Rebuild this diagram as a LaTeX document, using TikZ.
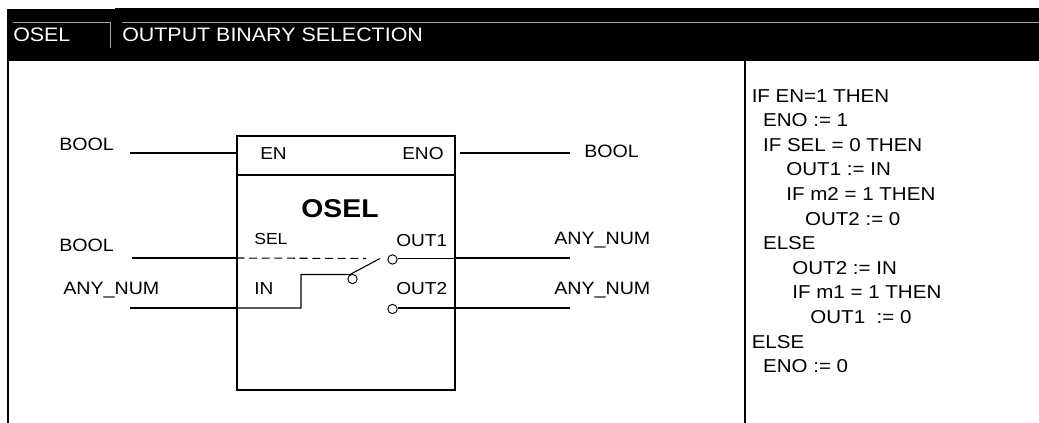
\documentclass[tikz,border=0pt]{standalone}
\usepackage{fontspec}
\setmainfont[FakeStretch=1.1]{Liberation Sans}
\usetikzlibrary{positioning, calc}
\tikzset{
  pinlabel/.style={font=\fontsize{13}{15}\selectfont, inner sep=0pt},
  typelabel/.style={font=\fontsize{13.4}{15}\selectfont, inner sep=0pt},
  titlelabel/.style={text=white, inner sep=0pt, font=\fontsize{14.6}{17}\selectfont},
  termcirc/.style={circle, draw, fill=white, line width=0.7pt, inner sep=0pt, minimum size=7pt},
  wire/.style={line width=1.5pt},
  thinwire/.style={line width=0.8pt}
}
\begin{document}
\begin{tikzpicture}[x=0.75pt,y=-0.75pt]
\useasboundingbox (0,0) rectangle (1039,423);
% Header bar
\fill[black] (7,9) rectangle (115,61);
\fill[black] (115,8) rectangle (1039,61);
\draw[gray!70, line width=0.4pt] (13,22) -- (110,22);
\draw[gray!70, line width=0.4pt] (110,22) -- (110,48);
\draw[gray!70, line width=0.4pt] (122,22) -- (1039,22);
\node[titlelabel, anchor=base west] (title) at (13,42) {OSEL};
\node[titlelabel, anchor=base west] (descr) at (122,42) {OUTPUT BINARY SELECTION};
% Frame
\draw[line width=1.5pt] (7.5,61) -- (7.5,423);
\draw[line width=1.5pt] (745,61) -- (745,423);
% Block
\node[draw, line width=1.5pt, minimum width=163pt, minimum height=190.5pt, inner sep=0pt] (osel) at (346,263) {};
\coordinate (sep) at ($(osel.north west)+(0,40)$);
\draw[line width=1.5pt] (sep) -- (sep -| osel.east);
\node[anchor=base, font=\bfseries\fontsize{19.3}{22}\selectfont, inner sep=0pt] (name) at (340,218) {OSEL};
% Pin labels
\node[pinlabel, anchor=base west] (en) at (260,160) {EN};
\node[pinlabel, anchor=base west] (eno) at (402,160) {ENO};
\node[anchor=base west, inner sep=0pt, font=\fontsize{12}{14}\selectfont] (sel) at (254,245) {SEL};
\node[pinlabel, anchor=base west] (in) at (254,295) {IN};
\node[pinlabel, anchor=base west] (outa) at (396,247) {OUT1};
\node[pinlabel, anchor=base west] (outb) at (396,295) {OUT2};
% Type labels
\node[typelabel, anchor=base west] (tena) at (59,151) {BOOL};
\node[typelabel, anchor=base west] (teno) at (584,158) {BOOL};
\node[typelabel, anchor=base west] (tsel) at (59,252) {BOOL};
\node[typelabel, anchor=base west] (tin) at (63,295) {ANY\_NUM};
\node[typelabel, anchor=base west] (touta) at (554,245) {ANY\_NUM};
\node[typelabel, anchor=base west] (toutb) at (554,295) {ANY\_NUM};
% Switch contacts
\node[termcirc] (ca) at (392.5,259.5) {};
\node[termcirc] (cb) at (392.5,309) {};
\node[termcirc] (cc) at (352.5,279) {};
% Outer wires
\coordinate (wen) at (130,153);
\coordinate (wsel) at (132,258);
\coordinate (win) at (130,308);
\coordinate (weno) at (460,153);
\coordinate (wenoe) at (570,153);
\coordinate (wouta) at (570,258.5);
\coordinate (woutb) at (570,308);
\draw[wire] (wen) -- (wen -| osel.west);
\draw[wire] (wsel) -- (wsel -| osel.west);
\draw[wire] (win) -- (win -| osel.west);
\draw[wire] (weno) -- (wenoe);
\draw[wire] (wouta -| osel.east) -- (wouta);
\draw[wire] (woutb -| osel.east) -- (woutb);
% Inside the block
\coordinate (swa) at (301,308);
\coordinate (swb) at (301,274.5);
\coordinate (swc) at (350,274.5);
\coordinate (swd) at (380,258.5);
\coordinate (dashend) at (366,258.5);
\draw[thinwire, dash pattern=on 6pt off 3.5pt] (wsel -| osel.west) -- (dashend);
\draw[thinwire] (win -| osel.west) -- (swa) -- (swb) -- (swc) -- (swd);
\draw[thinwire] (ca.east |- wouta) -- (wouta -| osel.east);
\draw[thinwire] (cb.east |- woutb) -- (woutb -| osel.east);
% Code column
\node[anchor=north west, align=left, inner sep=0pt, font=\fontsize{14}{18.45}\selectfont] (code) at (751.5,89) {
IF EN=1 THEN\\
\hspace*{8.5pt}ENO := 1\\
\hspace*{8.5pt}IF SEL = 0 THEN\\
\hspace*{26pt}OUT1 := IN\\
\hspace*{26pt}IF m2 = 1 THEN\\
\hspace*{40pt}OUT2 := 0\\
\hspace*{8.5pt}ELSE\\
\hspace*{30.5pt}OUT2 := IN\\
\hspace*{30.5pt}IF m1 = 1 THEN\\
\hspace*{44pt}OUT1 \ := 0\\
ELSE\\
\hspace*{8.5pt}ENO := 0
};
\end{tikzpicture}
\end{document}
